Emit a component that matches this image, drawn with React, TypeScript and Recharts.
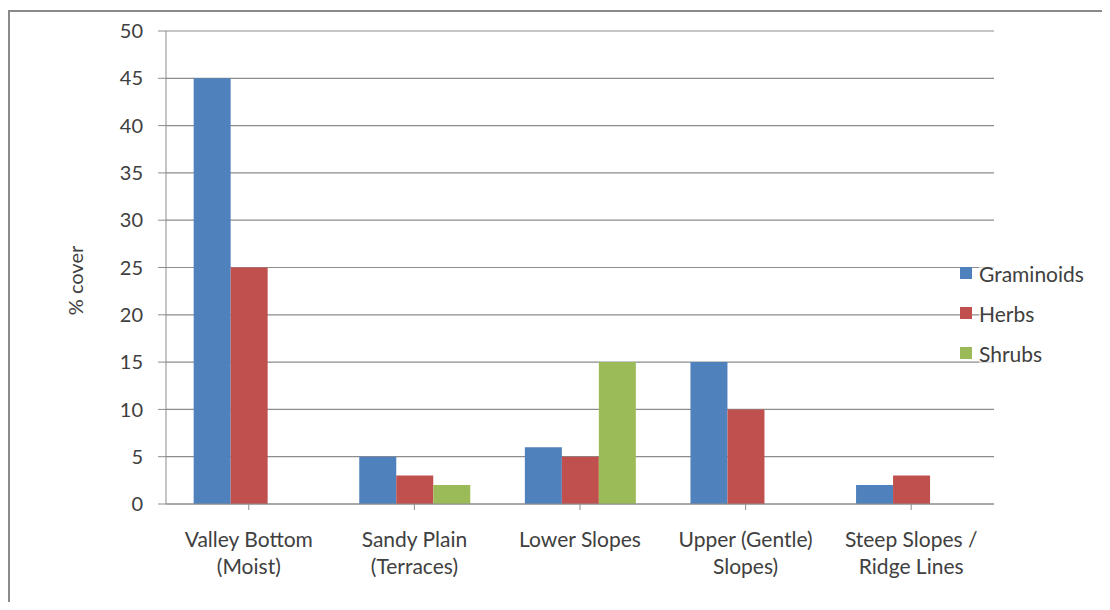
import React from "react";
import {
  BarChart,
  Bar,
  XAxis,
  YAxis,
  CartesianGrid,
  Label,
} from "recharts";

const categories = [
  "Valley Bottom\n(Moist)",
  "Sandy Plain\n(Terraces)",
  "Lower Slopes",
  "Upper (Gentle)\nSlopes)",
  "Steep Slopes /\nRidge Lines",
];
const graminoids = [45, 5, 6, 15, 2];
const herbs = [25, 3, 5, 10, 3];
const shrubs = [0, 2, 15, 0, 0];
const yTicks = [0, 5, 10, 15, 20, 25, 30, 35, 40, 45, 50];

const series = [
  { key: "graminoids", name: "Graminoids", color: "#4F81BD" },
  { key: "herbs", name: "Herbs", color: "#C0504D" },
  { key: "shrubs", name: "Shrubs", color: "#9BBB59" },
];

const data = categories.map((name, i) => ({
  name,
  graminoids: graminoids[i],
  herbs: herbs[i],
  shrubs: shrubs[i],
}));

const FONT = "Lato, 'Open Sans', sans-serif";
const TEXT = "#404040";
const GRID = "#8c8c8c";

function CategoryTick(props: any) {
  const { x, y, payload } = props;
  const lines = String(payload.value).split("\n");
  return (
    <g transform={`translate(${x},${y})`}>
      {lines.map((line, i) => (
        <text
          key={i}
          x={0}
          y={35 + i * 27}
          textAnchor="middle"
          fill={TEXT}
          fontSize={21}
          fontFamily={FONT}
        >
          {line}
        </text>
      ))}
    </g>
  );
}

function AxisTitle(props: any) {
  const { viewBox } = props;
  const cx = 67;
  const cy = viewBox.y + viewBox.height / 2 + 13;
  return (
    <text
      x={cx}
      y={cy}
      transform={`rotate(-90, ${cx}, ${cy})`}
      textAnchor="middle"
      dominantBaseline="central"
      fill={TEXT}
      fontSize={20}
      fontFamily={FONT}
    >
      % cover
    </text>
  );
}

function LegendBox() {
  return (
    <div
      style={{
        position: "absolute",
        left: 952,
        top: 243,
        fontFamily: FONT,
        fontSize: 21,
        color: TEXT,
      }}
    >
      {series.map((s) => (
        <div
          key={s.key}
          style={{ display: "flex", alignItems: "center", height: 40 }}
        >
          <span
            style={{
              width: 12,
              height: 12,
              background: s.color,
              marginRight: 7,
              display: "inline-block",
            }}
          />
          <span style={{ background: "rgba(255,255,255,0.6)" }}>{s.name}</span>
        </div>
      ))}
    </div>
  );
}

export default function App() {
  return (
    <div
      style={{
        width: 1094,
        height: 592,
        marginTop: 2,
        boxSizing: "border-box",
        borderTop: "2px solid #8a8a8a",
        borderLeft: "2px solid #8a8a8a",
        background: "#fff",
        position: "relative",
      }}
    >
      <div style={{ position: "absolute", left: -2, top: -2 }}>
        <BarChart
          width={1094}
          height={592}
          data={data}
          margin={{ top: 21, right: 108, left: 0, bottom: 38 }}
          barCategoryGap="16.7%"
          barGap={0}
        >
          <CartesianGrid vertical={false} stroke={GRID} strokeWidth={1.2} />
          <XAxis
            dataKey="name"
            height={60}
            interval={0}
            stroke={GRID}
            tickSize={6}
            tick={<CategoryTick />}
          />
          <YAxis
            width={158}
            domain={[0, 50]}
            ticks={yTicks}
            interval={0}
            stroke={GRID}
            tickSize={8}
            tickMargin={15}
            tick={{ fill: TEXT, fontSize: 20, fontFamily: FONT }}
          >
            <Label content={<AxisTitle />} />
          </YAxis>
          {series.map((s) => (
            <Bar
              key={s.key}
              dataKey={s.key}
              name={s.name}
              fill={s.color}
              isAnimationActive={false}
            />
          ))}
        </BarChart>
        <LegendBox />
      </div>
    </div>
  );
}
